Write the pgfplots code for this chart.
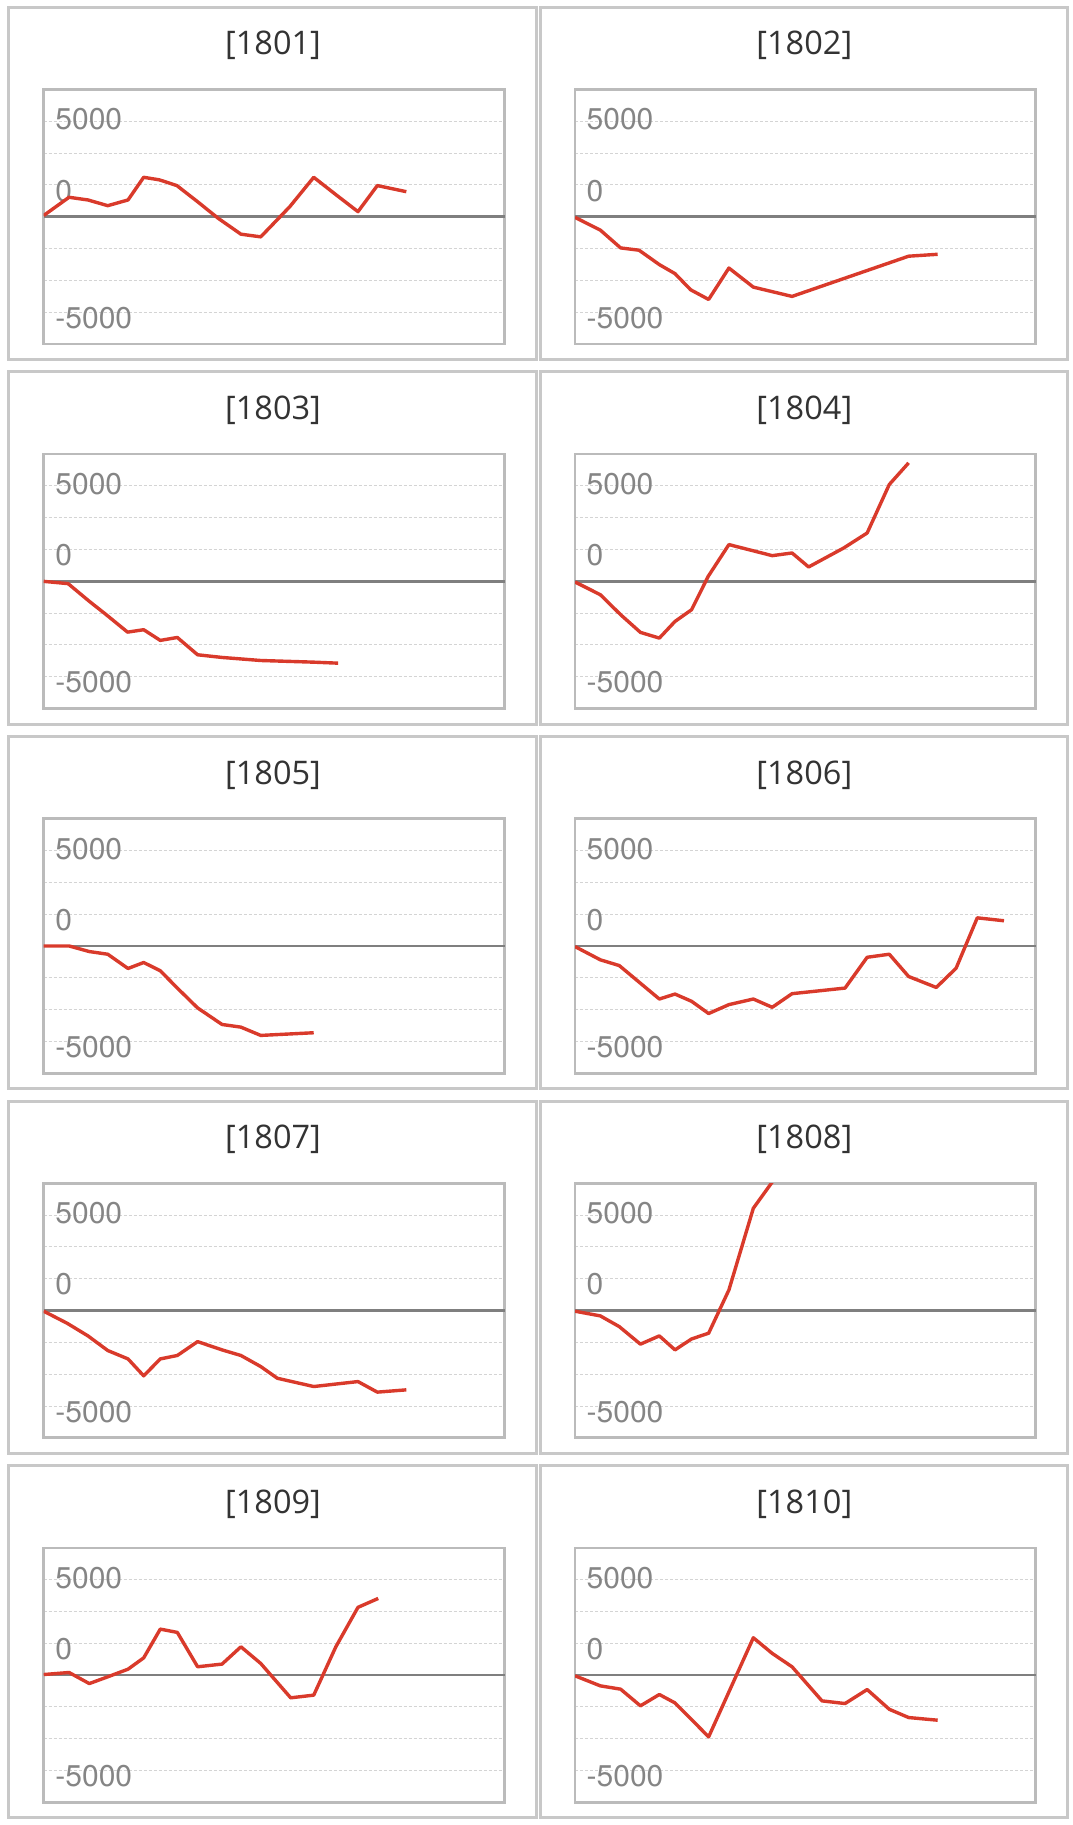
\documentclass[border=0pt]{standalone}
\usepackage{fontspec}
\setmainfont{TeX Gyre Heros}
\newfontfamily\titlefont{Open Sans}
\usepackage{pgfplots}
\pgfplotsset{compat=1.18}
\definecolor{panelgray}{HTML}{C8C8C8}
\definecolor{framegray}{HTML}{BBBBBB}
\definecolor{gridgray}{HTML}{D4D4D4}
\definecolor{zerogray}{HTML}{7F7F7F}
\definecolor{labelgray}{HTML}{858585}
\definecolor{titlegray}{HTML}{333333}
\definecolor{linered}{HTML}{D93A2B}
\newcommand\tickfont{\fontsize{30}{36}\selectfont}
\newcommand\ttlfont{\titlefont\fontsize{32.5}{39}\selectfont}
\pgfplotsset{panel/.style={
  scale only axis, width=460.8pt, height=254.5pt, anchor=north west,
  xmin=0, xmax=100, ymin=-10000, ymax=10000,
  axis line style={draw=framegray, line width=2.7pt},
  xtick=\empty,
  ytick={-7950,2050,7650}, yticklabels={-5000,0,5000},
  major tick length=0pt, minor tick length=0pt,
  minor ytick={-7500,-5000,-2500,2500,5000,7500},
  yminorgrids=true, ymajorgrids=false,
  minor grid style={draw=gridgray, line width=1pt, dash pattern=on 3pt off 2pt},
  major grid style={draw=zerogray, line width=2.6pt, solid},
  extra y ticks={0}, extra y tick labels={},
  extra y tick style={grid=major},
  yticklabel style={anchor=west, inner sep=0pt, xshift=11.5pt, text=labelgray, font=\tickfont},
  scaled y ticks=false,
}}
\newcommand\panel[4]{%
  \pgfmathsetmacro\cx{531.3*#1}%
  \pgfmathsetmacro\ry{364.6*#2}%
  \draw[panelgray, line width=3pt] (8.7pt+\cx pt,-7.3pt-\ry pt) rectangle (536.3pt+\cx pt,-359.5pt-\ry pt);
  \node[anchor=base, text=titlegray, font=\ttlfont, inner sep=0pt] at (273pt+\cx pt,-55pt-\ry pt) {[#3]};
  \begin{axis}[panel, at={(43.7pt+\cx pt,-89.5pt-\ry pt)}]
    \addplot[draw=linered, line width=3.4pt, line join=round, mark=none] coordinates {#4};
  \end{axis}
}
\begin{document}
\begin{tikzpicture}
\useasboundingbox (0,0) rectangle (1072pt,-1825pt);
\panel{0}{0}{1801}{(0,100) (5.5,1530) (9.6,1320) (13.9,870) (18.3,1320) (21.7,3100) (25.1,2900) (28.9,2450) (33.4,1180) (37.9,-130) (42.8,-1370) (47.1,-1580) (53.4,790) (58.6,3100) (63.5,1710) (68.2,400) (72.4,2450) (78.7,1970)}
\panel{1}{0}{1802}{(0,-50) (5.5,-1050) (9.9,-2450) (13.9,-2630) (18.3,-3760) (21.7,-4470) (25.1,-5740) (29.0,-6500) (33.4,-4030) (38.7,-5530) (47.1,-6260) (72.4,-3100) (78.7,-2950)}
\panel{0}{1}{1803}{(0,0) (5.3,-180) (9.9,-1570) (13.4,-2570) (18.2,-3990) (21.7,-3800) (25.3,-4640) (29.0,-4410) (33.4,-5770) (38.7,-5980) (47.1,-6220) (58.6,-6350) (63.9,-6430)}
\panel{1}{1}{1804}{(0,-50) (5.5,-1050) (9.9,-2620) (14.2,-4010) (18.3,-4460) (21.7,-3150) (25.3,-2230) (28.9,390) (33.4,2890) (42.8,2020) (47.1,2230) (50.7,1130) (58.3,2620) (63.4,3800) (68.2,7610) (72.4,9310)}
\panel{0}{2}{1805}{(0,0) (5.5,0) (9.9,-440) (13.9,-650) (18.3,-1770) (21.7,-1300) (25.3,-1950) (29.0,-3310) (33.4,-4870) (38.7,-6170) (42.8,-6380) (47.1,-7030) (58.6,-6820)}
\panel{1}{2}{1806}{(0,-50) (5.5,-1090) (9.6,-1540) (18.3,-4170) (21.7,-3780) (25.3,-4350) (29.0,-5310) (33.4,-4610) (38.7,-4170) (42.8,-4820) (47.1,-3750) (58.6,-3310) (63.4,-890) (68.2,-650) (72.4,-2400) (78.4,-3260) (82.7,-1750) (87.3,2210) (93.1,1980)}
\panel{0}{3}{1807}{(0,-50) (5.1,-1000) (9.6,-1990) (13.9,-3140) (18.3,-3800) (21.7,-5130) (25.3,-3800) (29.0,-3530) (33.4,-2440) (38.7,-3090) (42.8,-3530) (47.1,-4400) (50.7,-5320) (58.6,-5970) (68.2,-5580) (72.4,-6410) (78.7,-6230)}
\panel{1}{3}{1808}{(0,-50) (5.5,-420) (9.6,-1260) (14.2,-2640) (18.3,-1990) (21.7,-3090) (25.3,-2230) (29.0,-1780) (33.4,1620) (38.7,8040) (42.8,10100)}
\panel{0}{4}{1809}{(0,50) (5.5,210) (9.9,-660) (13.9,-130) (18.3,470) (21.7,1360) (25.3,3620) (29.0,3360) (33.4,660) (38.7,870) (42.8,2230) (47.1,920) (53.6,-1780) (58.6,-1570) (63.4,2230) (68.2,5330) (72.6,6030)}
\panel{1}{4}{1810}{(0,-50) (5.5,-840) (9.9,-1100) (14.2,-2410) (18.3,-1520) (21.7,-2180) (25.3,-3490) (29.0,-4850) (38.7,2940) (42.8,1710) (47.1,660) (53.6,-2020) (58.6,-2230) (63.4,-1130) (68.2,-2680) (72.4,-3330) (78.7,-3540)}
\end{tikzpicture}
\end{document}
